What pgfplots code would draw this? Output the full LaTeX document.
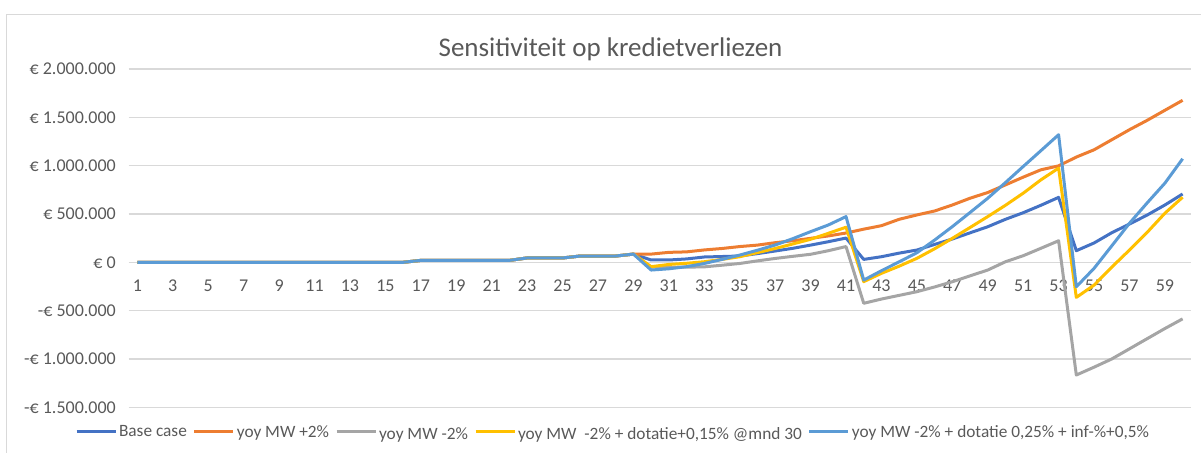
\documentclass[border=0pt]{standalone}
\usepackage{pgfplots}
\usepackage{pgfplotstable}
\pgfplotsset{compat=1.18}
\usepackage{fontspec}
\setmainfont{Carlito}
\definecolor{txt}{HTML}{595959}
\definecolor{gridc}{HTML}{D9D9D9}
\definecolor{cbase}{HTML}{4472C4}
\definecolor{corange}{HTML}{ED7D31}
\definecolor{cgray}{HTML}{A5A5A5}
\definecolor{cyellow}{HTML}{FFC000}
\definecolor{cblue}{HTML}{5B9BD5}

\pgfplotstableread{
i base orange gray yellow blue
1 0 0 0 0 0
2 0 0 0 0 0
3 0 0 0 0 0
4 0 0 0 0 0
5 0 0 0 0 0
6 0 0 0 0 0
7 0 0 0 0 0
8 0 0 0 0 0
9 0 0 0 0 0
10 0 0 0 0 0
11 0 0 0 0 0
12 0 0 0 0 0
13 0 0 0 0 0
14 0 0 0 0 0
15 0 0 0 0 0
16 0 0 0 0 0
17 20000 20000 20000 20000 20000
18 20000 20000 20000 20000 20000
19 20000 20000 20000 20000 20000
20 20000 20000 20000 20000 20000
21 20000 20000 20000 20000 20000
22 20000 20000 20000 20000 20000
23 45000 45000 45000 45000 45000
24 45000 45000 45000 45000 45000
25 45000 45000 45000 45000 45000
26 65000 65000 65000 65000 65000
27 65000 65000 65000 65000 65000
28 65000 65000 65000 65000 65000
29 85000 85000 85000 85000 85000
30 24000 85000 -50000 -45000 -80000
31 24000 103000 -52000 -22000 -67000
32 35000 108000 -50000 -10000 -45000
33 55000 128000 -47000 6000 -12000
34 60000 143000 -30000 30000 30000
35 65000 163000 -12000 58000 75000
36 90000 178000 15000 100000 125000
37 117000 203000 40000 143000 179000
38 145000 223000 62000 190000 245000
39 178000 248000 83000 238000 317000
40 213000 273000 120000 300000 386000
41 251000 303000 163000 363000 473000
42 30000 343000 -424000 -200000 -184000
43 58000 379000 -380000 -114000 -87000
44 95000 445000 -342000 -40000 5000
45 127000 490000 -304000 41000 99000
46 185000 531000 -255000 140000 230000
47 241000 593000 -201000 248000 369000
48 305000 663000 -140000 360000 515000
49 368000 722000 -80000 473000 663000
50 445000 801000 6000 590000 825000
51 513000 881000 68000 715000 991000
52 590000 957000 145000 853000 1155000
53 672000 998000 223000 975000 1320000
54 120000 1089000 -1166000 -363000 -253000
55 200000 1164000 -1085000 -236000 -63000
56 306000 1268000 -1000000 -50000 170000
57 396000 1372000 -895000 127000 404000
58 489000 1469000 -790000 310000 615000
59 593000 1573000 -685000 508000 819000
60 707000 1676000 -585000 673000 1071000
}\datatable

\begin{document}
\begin{tikzpicture}
\useasboundingbox (0,0) rectangle (1201bp,453bp);
\draw[gridc, line width=1.3bp] (6.5bp,0) -- (6.5bp,438.7bp) -- (1201bp,438.7bp);
\node[anchor=base, font=\fontsize{27bp}{32bp}\selectfont, text=txt, inner sep=0pt] at (610.5bp,396.3bp) {Sensitiviteit op kredietverliezen};
\begin{axis}[
  at={(128.5bp,45.7bp)}, anchor=south west,
  width=1063bp, height=338.3bp, scale only axis,
  xmin=0.5, xmax=60.5,
  ymin=-1500000, ymax=2000000,
  axis x line=middle, axis y line=left,
  axis line style={draw=none},
  tick style={draw=none},
  major tick length=0pt,
  xtick={1,3,...,59},
  ytick={-1500000,-1000000,-500000,0,500000,1000000,1500000,2000000},
  yticklabels={-€ 1.500.000,-€ 1.000.000,-€ 500.000,€ 0,€ 500.000,€ 1.000.000,€ 1.500.000,€ 2.000.000},
  scaled y ticks=false,
  /pgf/number format/assume math mode=true,
  xmajorgrids=false,
  ymajorgrids=true,
  major grid style={draw=gridc, line width=1.3bp},
  tick label style={font=\fontsize{18bp}{21bp}\selectfont, text=txt},
  xticklabel style={anchor=north, inner sep=0pt, yshift=-17.7bp},
  yticklabel style={anchor=east, inner sep=0pt, xshift=-12.5bp},
  legend columns=5,
  legend image code/.code={\draw[#1, line width=3bp] (0bp,0bp) -- (39bp,0bp);},
  legend style={at={(axis description cs:-0.0503,-0.073)}, anchor=west,
    draw=none, fill=none, inner sep=0pt, outer sep=0pt,
    font=\fontsize{17.3bp}{20bp}\selectfont, text=txt,
    nodes={inner sep=0pt},
    /tikz/every odd column/.append style={column sep=2bp},
    /tikz/every even column/.append style={column sep=6bp}},
  legend cell align=left,
  every axis plot/.append style={line width=3bp, line join=round, mark=none},
]
\addplot[cbase] table[x=i, y=base] {\datatable};
\addlegendentry{Base case}
\addplot[corange] table[x=i, y=orange] {\datatable};
\addlegendentry{yoy MW +2\%}
\addplot[cgray] table[x=i, y=gray] {\datatable};
\addlegendentry{\raisebox{-4bp}{yoy MW -2\%}}
\addplot[cyellow] table[x=i, y=yellow] {\datatable};
\addlegendentry{\raisebox{-4bp}{yoy MW\ \ -2\% + dotatie+0,15\% @mnd 30}}
\addplot[cblue] table[x=i, y=blue] {\datatable};
\addlegendentry{yoy MW -2\% + dotatie 0,25\% + inf-\%+0,5\%}
\end{axis}
\end{tikzpicture}
\end{document}
